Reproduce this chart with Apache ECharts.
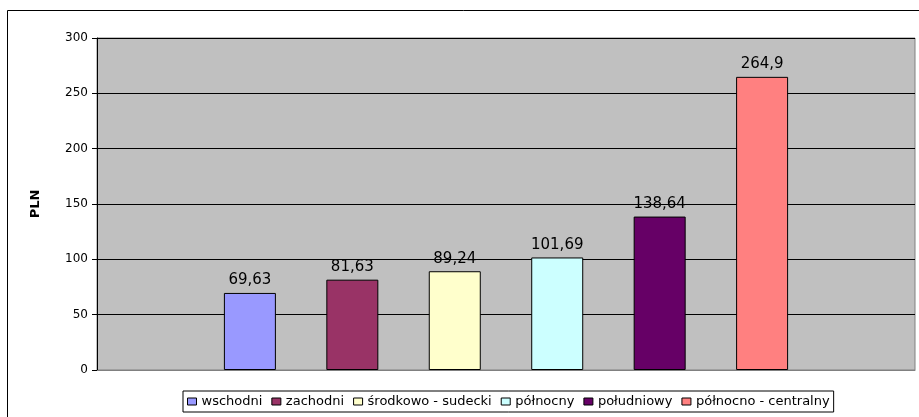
<!DOCTYPE html>
<html><head><meta charset="utf-8">
<script src="https://cdn.jsdelivr.net/npm/echarts@6/dist/echarts.min.js"></script>
<style>html,body{margin:0;padding:0;background:#fff}#c{width:919px;height:417px}</style>
</head><body><div id="c"></div>
<script>
var seriesNames = ['wschodni', 'zachodni', 'środkowo - sudecki', 'północny', 'południowy', 'północno - centralny'];
var seriesValues = [69.63, 81.63, 89.24, 101.69, 138.64, 264.9];
var seriesColors = ['#9999FF', '#993366', '#FFFFCC', '#CCFFFF', '#660066', '#FF8080'];
var yTicks = [0, 50, 100, 150, 200, 250, 300];

var FONT = 'DejaVu Sans';
var chart = echarts.init(document.getElementById('c'));
var series = seriesNames.map(function (n, i) {
  return {
    name: n, type: 'bar', data: [seriesValues[i]],
    barWidth: 52, barGap: '97%',
    itemStyle: { color: seriesColors[i], borderColor: '#000', borderWidth: 1 },
    label: { show: true, position: 'top', distance: 5, color: '#000', fontFamily: FONT, fontSize: 15,
      formatter: function (p) { return String(p.value).replace('.', ','); } }
  };
});
chart.setOption({
  animation: false,
  backgroundColor: '#fff',
  graphic: [{ type: 'rect', shape: { x: 7.5, y: 10.5, width: 960, height: 440 }, style: { fill: 'none', stroke: '#000', lineWidth: 1 }, z: 100 }],
  grid: { left: 97, top: 38, right: 4, bottom: 47, show: true, backgroundColor: '#C0C0C0', borderColor: '#808080', borderWidth: 1 },
  legend: {
    bottom: 5, left: 183, itemWidth: 9, itemHeight: 7, itemGap: 9, icon: 'rect',
    borderColor: '#000', borderWidth: 1, padding: [4, 4, 4, 4],
    textStyle: { fontFamily: FONT, fontSize: 13, color: '#000' },
    itemStyle: { borderColor: '#000', borderWidth: 1 },
    data: seriesNames
  },
  xAxis: { type: 'category', data: [''], axisLine: { show: true, lineStyle: { color: '#808080' } }, axisTick: { show: false }, axisLabel: { show: false } },
  yAxis: {
    type: 'value', min: yTicks[0], max: yTicks[yTicks.length - 1], interval: 50,
    name: 'PLN', nameLocation: 'middle', nameGap: 55, nameRotate: 90,
    nameTextStyle: { fontFamily: FONT, fontSize: 13, fontWeight: 'bold', color: '#000' },
    axisLine: { show: true, lineStyle: { color: '#000' } },
    axisTick: { show: true, length: 5, lineStyle: { color: '#000' } },
    axisLabel: { fontFamily: FONT, fontSize: 12, color: '#000', margin: 9 },
    splitLine: { lineStyle: { color: '#000' } }
  },
  series: series
});
</script></body></html>
